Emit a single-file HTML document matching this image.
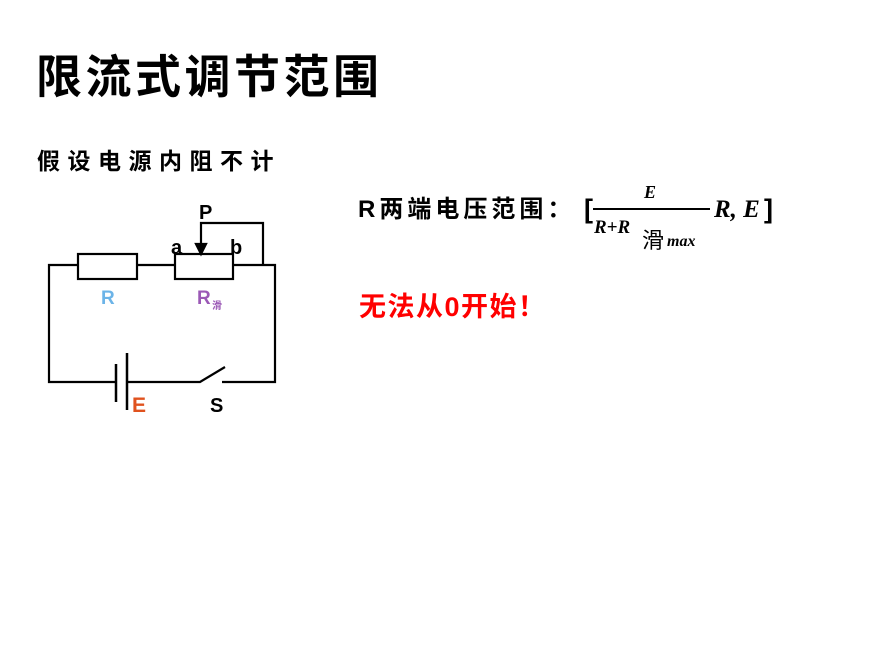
<!DOCTYPE html>
<html><head><meta charset="utf-8"><style>
body{margin:0;width:892px;height:664px;background:#fff;position:relative;overflow:hidden;font-family:"Liberation Sans","Noto Sans CJK SC",sans-serif}
.t{position:absolute;white-space:nowrap;line-height:1}
</style></head><body>
<div class="t" style="left:36px;top:54px;font-size:46px;font-weight:bold;letter-spacing:3.5px">限流式调节范围</div>
<div class="t" style="left:37px;top:148px;font-size:23px;font-weight:bold;letter-spacing:7.5px;font-family:'WenQuanYi Zen Hei','Noto Sans CJK SC',sans-serif">假设电源内阻不计</div>
<div class="t" style="left:358px;top:198px;font-size:24px;font-weight:bold;letter-spacing:4px">R两端电压范围：</div>
<div class="t" style="left:584px;top:196px;font-size:27px;font-weight:bold">[</div>
<div class="t" style="left:644px;top:183px;font-size:18px;font-weight:bold;font-style:italic;font-family:'Liberation Serif',serif">E</div>
<div style="position:absolute;left:593px;top:208px;width:117px;height:2px;background:#000"></div>
<div class="t" style="left:594px;top:218px;font-size:19px;font-weight:bold;font-style:italic;font-family:'Liberation Serif',serif">R+R</div>
<div class="t" style="left:642px;top:228px;font-size:22px;font-family:'Noto Sans CJK SC',sans-serif">滑</div>
<div class="t" style="left:667px;top:234px;font-size:16px;font-weight:bold;font-style:italic;font-family:'Liberation Serif',serif">max</div>
<div class="t" style="left:714px;top:197px;font-size:25px;font-weight:bold;font-style:italic;font-family:'Liberation Serif',serif">R, E</div>
<div class="t" style="left:764px;top:196px;font-size:27px;font-weight:bold">]</div>
<div class="t" style="left:359px;top:294px;font-size:27px;font-weight:bold;color:#f00;letter-spacing:1.5px">无法从0开始！</div>
<svg width="892" height="664" style="position:absolute;left:0;top:0" fill="none" stroke="#000" stroke-width="2.2">
<path d="M78 265H49V382H116M127 382H200L225 367M222 382H275V265H233M137 265H175"/>
<rect x="78" y="254" width="59" height="25"/>
<rect x="175" y="254" width="58" height="25"/>
<path d="M201 246V223H263V265"/>
<path d="M196 244L201 254L206 244Z" fill="#000"/>
<path d="M116 364V402M127 353V410" stroke-width="2.5"/>
<g font-family="Liberation Sans,sans-serif" font-weight="bold" stroke="none">
<text x="199" y="219" font-size="20" fill="#000">P</text>
<text x="171" y="254" font-size="20" fill="#000">a</text>
<text x="230" y="254" font-size="20" fill="#000">b</text>
<text x="101" y="304" font-size="19" fill="#6cb4e8">R</text>
<text x="197" y="304" font-size="19" fill="#9b59b6">R</text>
<text x="212" y="309" font-size="10" fill="#9b59b6" font-family="Noto Sans CJK SC,sans-serif">滑</text>
<text x="132" y="412" font-size="21" fill="#e0521e">E</text>
<text x="210" y="412" font-size="20" fill="#000">S</text>
</g>
</svg>
</body></html>
